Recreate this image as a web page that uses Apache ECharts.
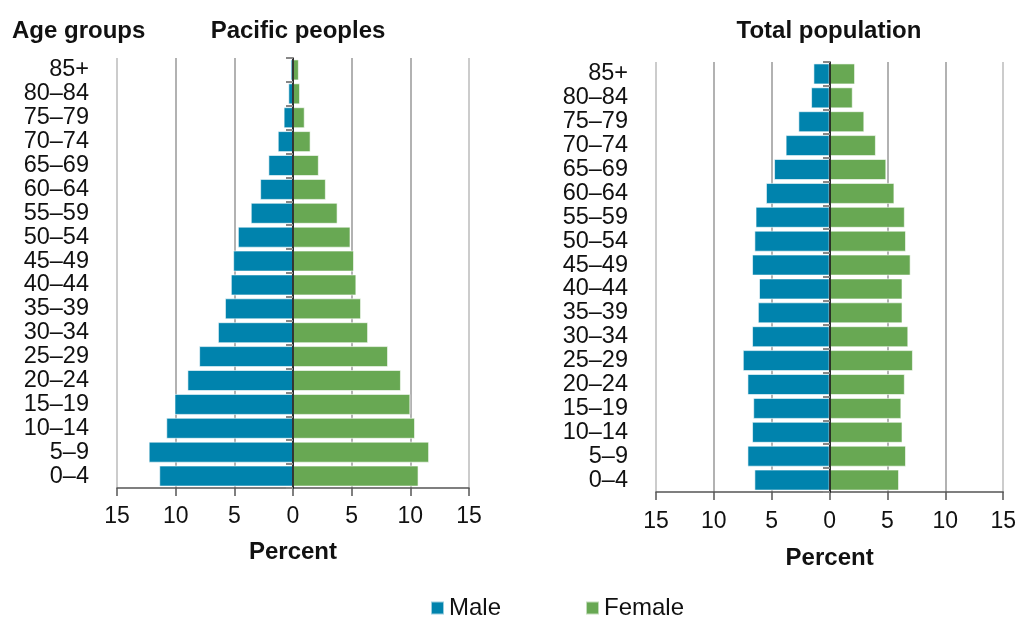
<!DOCTYPE html>
<html>
<head>
<meta charset="utf-8">
<script src="https://cdn.jsdelivr.net/npm/echarts@6/dist/echarts.min.js"></script>
<style>
  html, body { margin: 0; padding: 0; background: #fff; }
  #main { width: 1019px; height: 619px; }
</style>
</head>
<body>
<div id="main"></div>
<script>
// age groups, bottom to top
var ageGroups = ['0–4', '5–9', '10–14', '15–19', '20–24', '25–29', '30–34', '35–39', '40–44',
  '45–49', '50–54', '55–59', '60–64', '65–69', '70–74', '75–79', '80–84', '85+'];

var pacificMale = [11.4, 12.3, 10.8, 10.1, 9.0, 8.0, 6.4, 5.8, 5.3, 5.1, 4.7, 3.6, 2.8, 2.1, 1.3, 0.8, 0.4, 0.2];
var pacificFemale = [10.7, 11.6, 10.4, 10.0, 9.2, 8.1, 6.4, 5.8, 5.4, 5.2, 4.9, 3.8, 2.8, 2.2, 1.5, 1.0, 0.6, 0.5];

var totalMale = [6.5, 7.1, 6.7, 6.6, 7.1, 7.5, 6.7, 6.2, 6.1, 6.7, 6.5, 6.4, 5.5, 4.8, 3.8, 2.7, 1.6, 1.4];
var totalFemale = [6.0, 6.6, 6.3, 6.2, 6.5, 7.2, 6.8, 6.3, 6.3, 7.0, 6.6, 6.5, 5.6, 4.9, 4.0, 3.0, 2.0, 2.2];

var xTicks = [-15, -10, -5, 0, 5, 10, 15];

var maleColor = '#0083ad';
var femaleColor = '#68a853';
var font = 'Liberation Sans, Arial, sans-serif';

function negate(arr) {
  return arr.map(function (v) { return -v; });
}

function xAxisFor(gridIndex, nameGap, labelMargin) {
  return {
    gridIndex: gridIndex,
    type: 'value',
    min: xTicks[0],
    max: xTicks[xTicks.length - 1],
    interval: 5,
    name: 'Percent',
    nameLocation: 'middle',
    nameGap: nameGap,
    nameTextStyle: { fontFamily: font, fontSize: 24, fontWeight: 'bold', color: '#111' },
    axisLine: { show: true, onZero: false, lineStyle: { color: '#555', width: 1.5 } },
    axisTick: { show: true, inside: false, length: 8, lineStyle: { color: '#555', width: 1.5 } },
    axisLabel: {
      margin: labelMargin,
      fontFamily: font, fontSize: 23, color: '#111',
      formatter: function (v) { return Math.abs(v); }
    },
    splitLine: {
      show: true,
      lineStyle: { color: ['#bbb', '#999', '#999', '#999', '#999', '#999', '#bbb'], width: 1.5 }
    }
  };
}

function labelAxis(gridIndex) {
  return {
    gridIndex: gridIndex,
    type: 'category',
    data: ageGroups,
    position: 'left',
    axisLine: { show: false, onZero: false },
    axisTick: { show: false },
    axisLabel: { interval: 0, margin: 28, fontFamily: font, fontSize: 23.5, color: '#111' }
  };
}

// the black line at zero, shifted in from the left edge of the grid
function zeroAxis(gridIndex, offset) {
  return {
    gridIndex: gridIndex,
    type: 'category',
    data: ageGroups,
    position: 'left',
    offset: offset,
    z: 10,
    axisLine: { show: true, onZero: false, lineStyle: { color: '#000', width: 1.5 } },
    axisTick: { show: true, length: 7, lineStyle: { color: '#888', width: 2 } },
    axisLabel: { show: false }
  };
}

function barSeries(name, data, color, xIdx, yIdx) {
  return {
    name: name,
    type: 'bar',
    xAxisIndex: xIdx,
    yAxisIndex: yIdx,
    data: data,
    barGap: '-100%',
    barCategoryGap: '12%',
    itemStyle: { color: color, borderColor: 'rgba(255,255,255,0.6)', borderWidth: 1 }
  };
}

var myChart = echarts.init(document.getElementById('main'));

var option = {
  backgroundColor: '#fff',
  animation: false,
  title: [
    { text: 'Age groups', left: 7, top: 14, textStyle: { fontFamily: font, fontSize: 24, fontWeight: 'bold', color: '#111' } },
    { text: 'Pacific peoples', left: 293, top: 14, textAlign: 'center', textStyle: { fontFamily: font, fontSize: 24, fontWeight: 'bold', color: '#111' } },
    { text: 'Total population', left: 824, top: 14, textAlign: 'center', textStyle: { fontFamily: font, fontSize: 24, fontWeight: 'bold', color: '#111' } }
  ],
  legend: {
    data: ['Male', 'Female'],
    left: 430,
    top: 596,
    padding: 0,
    icon: 'rect',
    itemWidth: 13,
    itemHeight: 13,
    itemGap: 84,
    textStyle: { fontFamily: font, fontSize: 24, color: '#111' }
  },
  grid: [
    { left: 117, right: 550, top: 58, bottom: 131 },
    { left: 656, right: 15, top: 62, bottom: 127 }
  ],
  xAxis: [
    xAxisFor(0, 52, 17),
    xAxisFor(1, 54, 18)
  ],
  yAxis: [
    labelAxis(0),
    zeroAxis(0, -176),
    labelAxis(1),
    zeroAxis(1, -174)
  ],
  series: [
    barSeries('Male', negate(pacificMale), maleColor, 0, 1),
    barSeries('Female', pacificFemale, femaleColor, 0, 1),
    barSeries('Male', negate(totalMale), maleColor, 1, 3),
    barSeries('Female', totalFemale, femaleColor, 1, 3)
  ]
};

myChart.setOption(option);
</script>
</body>
</html>
